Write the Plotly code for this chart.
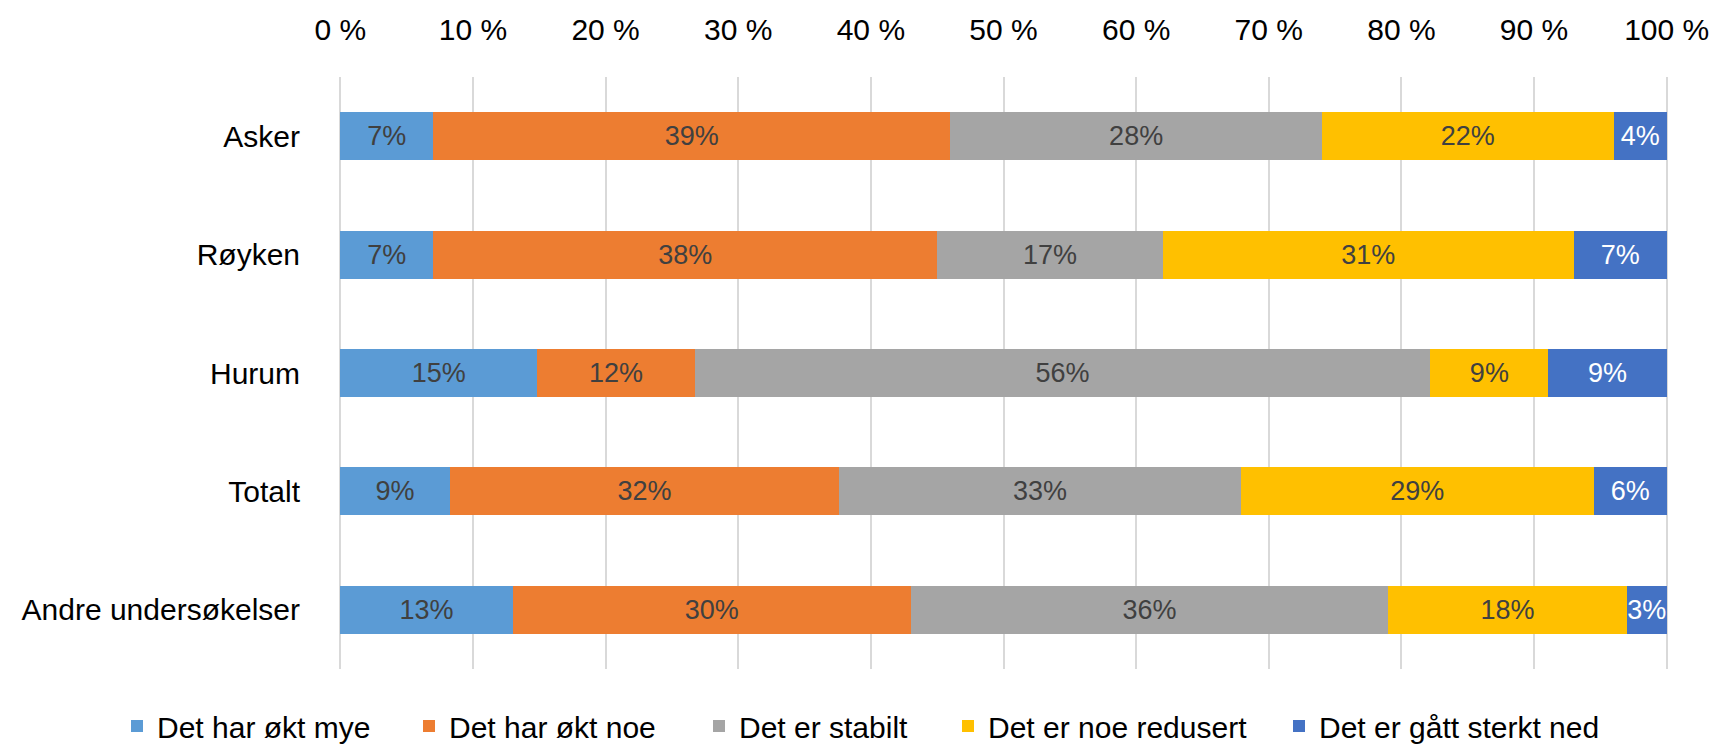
import plotly.graph_objects as go

categories = ["Asker", "Røyken", "Hurum", "Totalt", "Andre undersøkelser"]
series_names = ["Det har økt mye", "Det har økt noe", "Det er stabilt",
                "Det er noe redusert", "Det er gått sterkt ned"]
okt_mye = [7, 7, 15, 9, 13]
okt_noe = [39, 38, 12, 32, 30]
stabilt = [28, 17, 56, 33, 36]
noe_redusert = [22, 31, 9, 29, 18]
sterkt_ned = [4, 7, 9, 6, 3]
series_values = [okt_mye, okt_noe, stabilt, noe_redusert, sterkt_ned]
colors = ["#5B9BD5", "#ED7D31", "#A5A5A5", "#FFC000", "#4472C4"]
label_colors = ["#404040", "#404040", "#404040", "#404040", "#FFFFFF"]
tick_vals = [0, 10, 20, 30, 40, 50, 60, 70, 80, 90, 100]
tick_text = ["0 %", "10 %", "20 %", "30 %", "40 %", "50 %", "60 %", "70 %", "80 %", "90 %", "100 %"]

FONT = "Liberation Sans, Arial, sans-serif"
W, H = 1714, 744

# left edge (px) of each legend square in the reference
legend_square_px = [131, 423, 713, 962, 1293]
legend_center_y_px = 726

fig = go.Figure()
legend_ids = ["legend", "legend2", "legend3", "legend4", "legend5"]
for name, vals, col, lc, lid in zip(series_names, series_values, colors, label_colors, legend_ids):
    fig.add_trace(go.Bar(
        name=name, y=categories, x=vals, orientation="h",
        marker=dict(color=col, line=dict(width=0)),
        text=[f"{v}%" for v in vals], textposition="inside",
        insidetextanchor="middle", textangle=0,
        textfont=dict(family=FONT, size=27, color=lc),
        hoverinfo="skip", legend=lid, showlegend=True,
    ))

legend_layouts = {}
for lid, sq in zip(legend_ids, legend_square_px):
    legend_layouts[lid] = dict(
        orientation="h", xref="container", yref="container",
        x=(sq - 14) / W, xanchor="left",
        y=(H - legend_center_y_px) / H, yanchor="middle",
        font=dict(family=FONT, size=30, color="#000000"),
        bgcolor="rgba(0,0,0,0)", borderwidth=0, itemwidth=30,
        visible=True,
    )

fig.update_layout(
    showlegend=True,
    barmode="stack", barnorm="percent", bargap=0.595,
    width=W, height=H,
    paper_bgcolor="white", plot_bgcolor="white",
    margin=dict(l=339, r=46, t=77, b=75, autoexpand=False),
    font=dict(family=FONT, size=29, color="#000000"),
    uniformtext=dict(minsize=27, mode="show"),
    xaxis=dict(side="top", range=[-0.1, 100.1], tickvals=tick_vals, ticktext=tick_text,
               showgrid=True, gridcolor="#D9D9D9", gridwidth=1.5, zeroline=False,
               showline=False, ticks="", ticklabelstandoff=30, automargin=False,
               ticklabeloverflow="allow",
               tickfont=dict(family=FONT, size=30, color="#000000")),
    yaxis=dict(autorange="reversed", showgrid=False, zeroline=False, showline=False,
               ticks="", ticklabelstandoff=38, automargin=False,
               tickfont=dict(family=FONT, size=30, color="#000000")),
    **legend_layouts,
)

# remove the default 8px page margin so the figure fills the window exactly
fig.write_html("out.html", config={"displayModeBar": False},
               post_script="document.body.style.margin='0';document.body.style.overflow='hidden';")
